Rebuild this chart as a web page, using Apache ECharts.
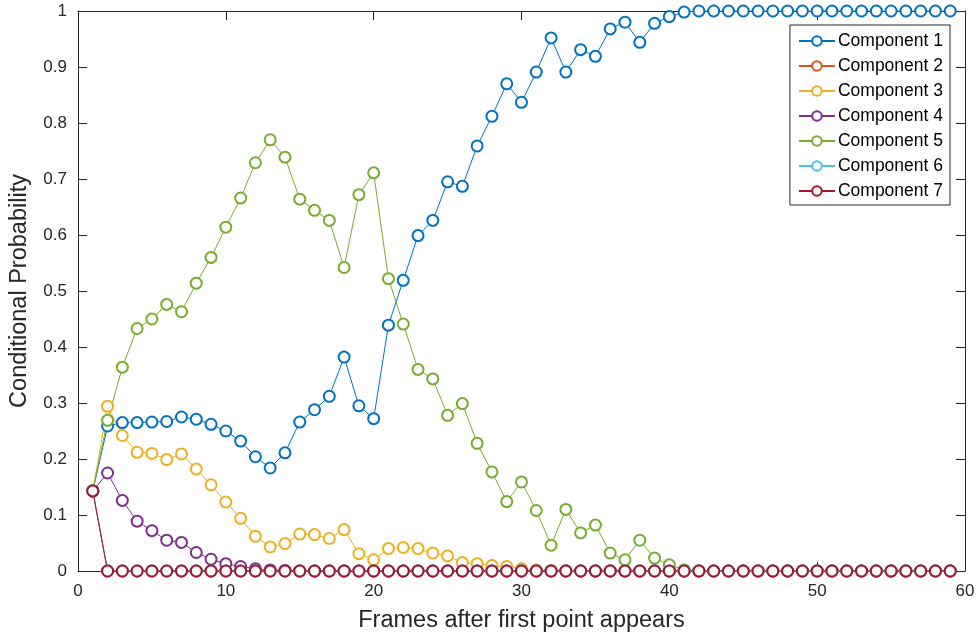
<!DOCTYPE html>
<html>
<head>
<meta charset="utf-8">
<script src="https://cdn.jsdelivr.net/npm/echarts@6.0.0/dist/echarts.min.js"></script>
<style>
  html, body { margin: 0; padding: 0; background: #fff; }
  #chart { width: 979px; height: 638px; }
</style>
</head>
<body>
<div id="chart"></div>
<script>
// frames 1..59
const frames = [1,2,3,4,5,6,7,8,9,10,11,12,13,14,15,16,17,18,19,20,21,22,23,24,25,26,27,28,29,30,
  31,32,33,34,35,36,37,38,39,40,41,42,43,44,45,46,47,48,49,50,51,52,53,54,55,56,57,58,59];

const comp1 = [0.143,0.259,0.265,0.265,0.266,0.267,0.275,0.271,0.262,0.250,0.232,0.204,0.184,0.211,0.266,
  0.288,0.312,0.382,0.295,0.272,0.439,0.519,0.599,0.626,0.695,0.687,0.759,0.812,0.870,0.837,
  0.891,0.952,0.891,0.931,0.919,0.968,0.980,0.944,0.978,0.990,0.998,1,1,1,1,1,1,1,1,1,
  1,1,1,1,1,1,1,1,1];
const comp2 = [0.143,0,0,0,0,0,0,0,0,0,0,0,0,0,0,0,0,0,0,0,0,0,0,0,0,0,0,0,0,0,
  0,0,0,0,0,0,0,0,0,0,0,0,0,0,0,0,0,0,0,0,0,0,0,0,0,0,0,0,0];
const comp3 = [0.143,0.294,0.242,0.212,0.210,0.199,0.209,0.182,0.154,0.123,0.094,0.062,0.043,0.049,0.066,
  0.065,0.058,0.074,0.031,0.020,0.040,0.042,0.040,0.032,0.027,0.015,0.013,0.010,0.008,0.004,
  0.002,0.001,0,0,0,0,0,0,0,0,0,0,0,0,0,0,0,0,0,0,0,0,0,0,0,0,0,0,0];
const comp4 = [0.143,0.175,0.126,0.089,0.072,0.055,0.051,0.033,0.021,0.013,0.008,0.004,0.002,0.001,0,
  0,0,0,0,0,0,0,0,0,0,0,0,0,0,0,0,0,0,0,0,0,0,0,0,0,0,0,0,0,0,0,0,0,0,0,0,0,0,0,0,0,0,0,0];
const comp5 = [0.143,0.269,0.364,0.433,0.450,0.476,0.463,0.514,0.560,0.614,0.666,0.729,0.770,0.739,0.664,
  0.644,0.626,0.542,0.672,0.711,0.522,0.441,0.360,0.343,0.278,0.299,0.228,0.177,0.124,0.159,
  0.108,0.046,0.110,0.068,0.082,0.032,0.020,0.055,0.023,0.011,0.002,0,0,0,0,0,0,0,0,0,
  0,0,0,0,0,0,0,0,0];
const comp6 = [0.143,0,0,0,0,0,0,0,0,0,0,0,0,0,0,0,0,0,0,0,0,0,0,0,0,0,0,0,0,0,
  0,0,0,0,0,0,0,0,0,0,0,0,0,0,0,0,0,0,0,0,0,0,0,0,0,0,0,0,0];
const comp7 = [0.143,0,0,0,0,0,0,0,0,0,0,0,0,0,0,0,0,0,0,0,0,0,0,0,0,0,0,0,0,0,
  0,0,0,0,0,0,0,0,0,0,0,0,0,0,0,0,0,0,0,0,0,0,0,0,0,0,0,0,0];

const seriesNames = ["Component 1","Component 2","Component 3","Component 4","Component 5","Component 6","Component 7"];
const seriesValues = [comp1, comp2, comp3, comp4, comp5, comp6, comp7];
// MATLAB default line colours
const colors = ["#0072BD","#D95319","#EDB120","#7E2F8E","#77AC30","#4DBEEE","#A2142F"];

const axisColor = "#262626";
const font = "'Liberation Sans', Arial, sans-serif";

const chart = echarts.init(document.getElementById("chart"));

const series = seriesNames.map((name, i) => ({
  name,
  type: "line",
  xAxisIndex: 0,
  yAxisIndex: 0,
  data: frames.map((f, k) => [f, seriesValues[i][k]]),
  symbol: "emptyCircle",
  symbolSize: 11,
  showAllSymbol: true,
  lineStyle: { width: 1, color: colors[i] },
  itemStyle: { color: colors[i], borderColor: colors[i], borderWidth: 0.7 },
  emphasis: { disabled: true },
}));

const baseX = {
  type: "value",
  min: 0,
  max: 60,
  interval: 10,
  axisLine: { show: true, onZero: false, lineStyle: { color: axisColor, width: 1 } },
  axisTick: { show: true, inside: true, length: 9, lineStyle: { color: axisColor } },
  splitLine: { show: false },
};
const baseY = {
  type: "value",
  min: 0,
  max: 1,
  interval: 0.1,
  axisLine: { show: true, onZero: false, lineStyle: { color: axisColor, width: 1 } },
  axisTick: { show: true, inside: true, length: 9, lineStyle: { color: axisColor } },
  splitLine: { show: false },
};

chart.setOption({
  animation: false,
  backgroundColor: "#fff",
  textStyle: { fontFamily: font },
  grid: { left: 77, right: 14, top: 11, bottom: 67, containLabel: false },
  legend: {
    orient: "vertical",
    right: 29,
    top: 25,
    backgroundColor: "#fff",
    borderColor: axisColor,
    borderWidth: 1,
    borderRadius: 0,
    padding: [7, 7, 5, 8],
    itemWidth: 36,
    itemHeight: 12,
    itemGap: 7,
    textStyle: { fontSize: 17.5, color: "#000", fontFamily: font, padding: [0, 0, 0, -2] },
    data: seriesNames,
  },
  xAxis: [
    Object.assign({}, baseX, {
      position: "bottom",
      axisLabel: { color: axisColor, fontSize: 17, margin: 12, fontFamily: font },
      name: "Frames after first point appears",
      nameLocation: "middle",
      nameGap: 38,
      nameTextStyle: { color: axisColor, fontSize: 23.5, fontFamily: font },
    }),
    Object.assign({}, baseX, { position: "top", axisLabel: { show: false } }),
  ],
  yAxis: [
    Object.assign({}, baseY, {
      position: "left",
      axisLabel: { color: axisColor, fontSize: 17, margin: 11, fontFamily: font },
      name: "Conditional Probability",
      nameLocation: "middle",
      nameGap: 46,
      nameTextStyle: { color: axisColor, fontSize: 23.5, fontFamily: font },
    }),
    Object.assign({}, baseY, { position: "right", axisLabel: { show: false } }),
  ],
  series,
});
</script>
</body>
</html>
